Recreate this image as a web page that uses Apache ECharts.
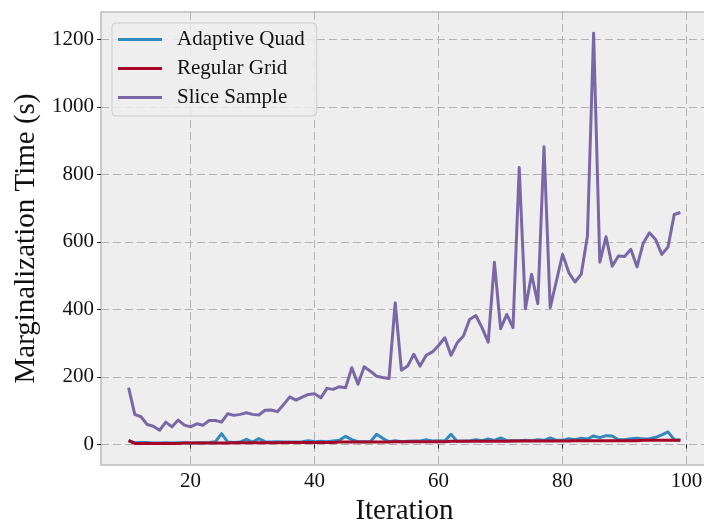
<!DOCTYPE html>
<html>
<head>
<meta charset="utf-8">
<script src="https://cdn.jsdelivr.net/npm/echarts@6/dist/echarts.min.js"></script>
<style>
  html, body { margin: 0; padding: 0; background: #ffffff; }
  #chart { width: 704px; height: 520px; }
</style>
</head>
<body>
<div id="chart"></div>
<script>
// Iteration numbers shared by all three methods
const iterations = [
  10, 11, 12, 13, 14, 15, 16, 17, 18, 19,
  20, 21, 22, 23, 24, 25, 26, 27, 28, 29,
  30, 31, 32, 33, 34, 35, 36, 37, 38, 39,
  40, 41, 42, 43, 44, 45, 46, 47, 48, 49,
  50, 51, 52, 53, 54, 55, 56, 57, 58, 59,
  60, 61, 62, 63, 64, 65, 66, 67, 68, 69,
  70, 71, 72, 73, 74, 75, 76, 77, 78, 79,
  80, 81, 82, 83, 84, 85, 86, 87, 88, 89,
  90, 91, 92, 93, 94, 95, 96, 97, 98, 99
];

// Marginalization time in seconds per iteration
const adaptiveQuad = [
  10, 5, 6, 6, 4, 4, 5, 4, 5, 5,
  4, 5, 5, 6, 8, 32, 7, 6, 7, 15,
  7, 17, 8, 7, 8, 7, 7, 7, 8, 11,
  8, 9, 8, 10, 12, 24, 14, 8, 8, 8,
  30, 18, 8, 11, 8, 9, 10, 10, 14, 10,
  11, 10, 30, 9, 10, 10, 14, 11, 16, 12,
  19, 11, 11, 11, 12, 11, 14, 12, 19, 12,
  12, 17, 14, 18, 16, 25, 20, 26, 25, 14,
  14, 17, 18, 16, 17, 21, 28, 37, 14, 12
];

const regularGrid = [
  12, 3, 3, 3, 3, 3, 3, 3, 3, 4,
  4, 4, 4, 4, 4, 4, 4, 5, 5, 5,
  5, 5, 5, 5, 5, 6, 6, 6, 6, 6,
  6, 6, 6, 6, 7, 7, 7, 7, 7, 7,
  7, 7, 7, 8, 8, 8, 8, 8, 8, 8,
  8, 8, 9, 9, 9, 9, 9, 9, 9, 9,
  9, 9, 10, 10, 10, 10, 10, 10, 10, 10,
  10, 10, 11, 11, 11, 11, 11, 11, 11, 11,
  11, 11, 11, 12, 12, 12, 12, 12, 12, 12
];

const sliceSample = [
  168, 89, 82, 59, 54, 42, 66, 52, 72, 57,
  52, 61, 57, 71, 71, 66, 91, 86, 89, 94,
  89, 87, 101, 102, 97, 118, 141, 131, 140, 148,
  150, 138, 166, 163, 171, 168, 227, 178, 230, 217,
  202, 198, 195, 420, 220, 232, 267, 232, 264, 274,
  293, 316, 264, 301, 321, 370, 382, 346, 303, 540,
  343, 385, 346, 820, 402, 504, 417, 882, 405, 484,
  563, 509, 481, 504, 617, 1218, 540, 615, 528, 558,
  557, 578, 526, 596, 627, 607, 563, 585, 681, 687
];

// Axis tick positions
const xTicks = [20, 40, 60, 80, 100];
const yTicks = [0, 200, 400, 600, 800, 1000, 1200];

const seriesNames = ['Adaptive Quad', 'Regular Grid', 'Slice Sample'];
const seriesColors = ['#348ABD', '#A60628', '#7A68A6'];
const seriesValues = [adaptiveQuad, regularGrid, sliceSample];

const serif = '"Liberation Serif", "DejaVu Serif", serif';

const chart = echarts.init(document.getElementById('chart'), null, { renderer: 'canvas' });

chart.setOption({
  animation: false,
  backgroundColor: '#ffffff',
  grid: {
    left: 101,
    top: 12,
    width: 607,
    height: 453,
    outerBoundsMode: 'none',
    containLabel: false,
    show: true,
    backgroundColor: '#eeeeee',
    borderColor: '#bcbcbc',
    borderWidth: 1.5
  },
  legend: {
    orient: 'vertical',
    left: 112,
    top: 23,
    padding: [6, 12, 8, 6],
    itemWidth: 44,
    itemHeight: 3,
    itemGap: 8,
    backgroundColor: 'rgba(238,238,238,0.8)',
    borderColor: '#cccccc',
    borderWidth: 1,
    borderRadius: 4,
    textStyle: {
      fontFamily: serif,
      fontSize: 21,
      color: '#111111',
      padding: [0, 0, 0, 10]
    },
    data: seriesNames.map(function (n) { return { name: n, icon: 'rect' }; })
  },
  xAxis: {
    type: 'value',
    min: 5.55,
    max: 103.45,
    name: 'Iteration',
    nameLocation: 'middle',
    nameGap: 30,
    nameTextStyle: { fontFamily: serif, fontSize: 29, color: '#111111' },
    axisLine: { show: false },
    axisTick: { show: true, length: 4, lineStyle: { color: '#222222', width: 1 }, customValues: xTicks },
    axisLabel: { fontFamily: serif, fontSize: 21, color: '#111111', margin: 6, customValues: xTicks,
      formatter: function (v) { return String(v); } },
    splitLine: { show: true, lineStyle: { color: '#b2b2b2', width: 1, type: [8, 4] } }
  },
  yAxis: {
    type: 'value',
    min: -61,
    max: 1281,
    name: 'Marginalization Time (s)',
    nameLocation: 'middle',
    nameGap: 56,
    nameTextStyle: { fontFamily: serif, fontSize: 29, color: '#111111' },
    axisLine: { show: false },
    axisTick: { show: true, length: 4, lineStyle: { color: '#222222', width: 1 }, customValues: yTicks },
    axisLabel: { fontFamily: serif, fontSize: 21, color: '#111111', margin: 7, customValues: yTicks,
      formatter: function (v) { return String(v); } },
    splitLine: { show: true, lineStyle: { color: '#b2b2b2', width: 1, type: [8, 4] } }
  },
  series: seriesNames.map(function (name, k) {
    return {
      name: name,
      type: 'line',
      data: iterations.map(function (it, i) { return [it, seriesValues[k][i]]; }),
      showSymbol: false,
      symbol: 'none',
      color: seriesColors[k],
      lineStyle: { color: seriesColors[k], width: 3, join: 'round' }
    };
  })
});
</script>
</body>
</html>
